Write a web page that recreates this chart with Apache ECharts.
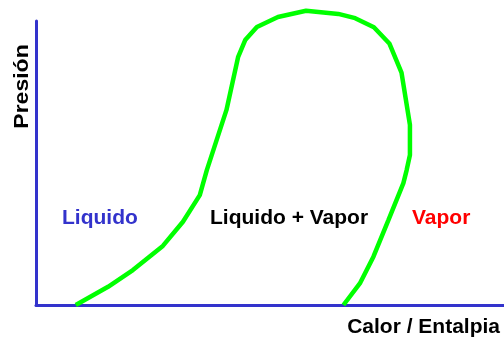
<!DOCTYPE html>
<html>
<head>
<meta charset="utf-8">
<script src="https://cdn.jsdelivr.net/npm/echarts@6/dist/echarts.min.js"></script>
<style>
  html, body { margin: 0; padding: 0; background: #fff; }
  #chart { width: 504px; height: 338px; }
</style>
</head>
<body>
<div id="chart"></div>
<script>
// curva de saturación (entalpia, presión), escala 0-100
var entalpia = [8.5, 15.4, 20.7, 27.1, 31.4, 35.0, 36.5, 40.7, 43.2, 44.7, 47.2, 51.7, 57.7, 64.6, 68.2, 72.2, 75.5, 78.1, 79.9, 79.9, 79.2, 78.5, 75.3, 72.1, 69.2, 65.7]
var presion = [0, 6.4, 12.3, 20.8, 29.3, 38.7, 47.5, 68.7, 87.4, 93.3, 97.9, 101.4, 103.6, 102.5, 101.0, 97.8, 92.1, 81.8, 63.4, 52.8, 47.5, 42.9, 29.9, 17.0, 7.6, 0]

var ejeX = 'Calor / Entalpia'
var ejeY = 'Presión'
var zonas = ['Liquido', 'Liquido + Vapor', 'Vapor']

var azul = '#3333cc'
var fuente = 'bold 20px "Liberation Sans", Arial, sans-serif'

// texto con el mismo estilo, un poco estirado como en el original
function texto (t, x, y, color, align, extra) {
  var el = {
    type: 'text', x: x, y: y, scaleX: 1.05,
    style: { text: t, fill: color, font: fuente, textAlign: align, textVerticalAlign: 'middle' }
  }
  return Object.assign(el, extra || {})
}

var chart = echarts.init(document.getElementById('chart'))

var option = {
  animation: false,
  grid: { left: 36, right: 0, top: 21, bottom: 33 },
  xAxis: {
    type: 'value',
    min: 0,
    max: 100,
    axisLine: { lineStyle: { color: azul, width: 3 } },
    axisTick: { show: false },
    axisLabel: { show: false },
    splitLine: { show: false }
  },
  yAxis: {
    type: 'value',
    min: 0,
    max: 100,
    axisLine: { show: true, lineStyle: { color: azul, width: 3 } },
    axisTick: { show: false },
    axisLabel: { show: false },
    splitLine: { show: false }
  },
  series: [
    {
      type: 'line',
      data: entalpia.map(function (h, i) { return [h, presion[i]] }),
      showSymbol: false,
      clip: false,
      smooth: false,
      lineStyle: { color: '#00ff00', width: 4.5 }
    }
  ],
  graphic: [
    texto(zonas[0], 62, 218, azul, 'left'),
    texto(zonas[1], 210, 218, '#000', 'left'),
    texto(zonas[2], 412, 218, '#ff0000', 'left'),
    texto(ejeX, 500, 327, '#000', 'right'),
    texto(ejeY, 22, 86.5, '#000', 'center', { rotation: Math.PI / 2, scaleX: 1.15 })
  ]
}

chart.setOption(option)
</script>
</body>
</html>
